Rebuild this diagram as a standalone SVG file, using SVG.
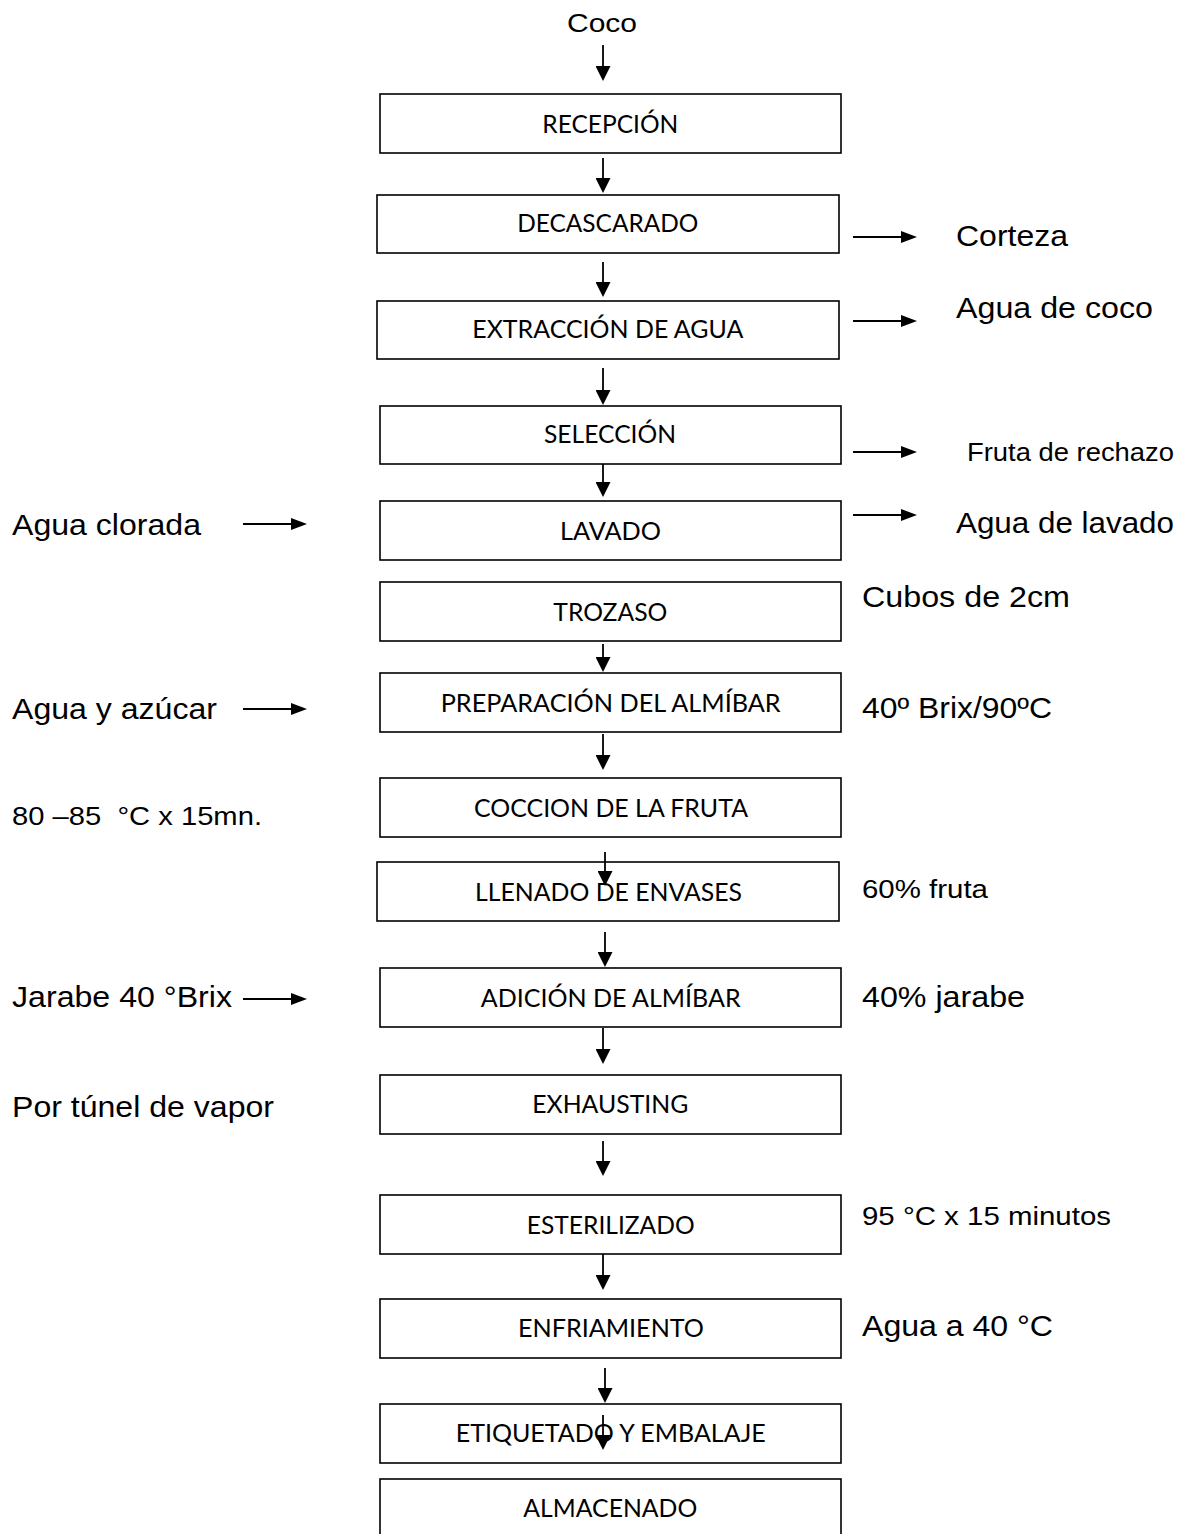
<svg xmlns="http://www.w3.org/2000/svg" width="1193" height="1534" viewBox="0 0 1193 1534">
<style>
.box{fill:#fff;stroke:#000;stroke-width:1.6}
.bt{font-family:Lato,"Open Sans","Liberation Sans",sans-serif;font-size:24.5px;fill:#000}
.lb{font-family:"Liberation Sans",Arial,sans-serif;font-size:29px;fill:#000}
.sm{font-family:"Liberation Sans",Arial,sans-serif;font-size:26px;fill:#000}
.cv{stroke:#000;stroke-width:1.8;fill:none;marker-end:url(#aV)}
.ch{stroke:#000;stroke-width:2;fill:none;marker-end:url(#aH)}
</style>
<defs>
<marker id="aV" viewBox="0 0 15 15" markerWidth="15" markerHeight="15" refX="11" refY="7.5" orient="auto" markerUnits="userSpaceOnUse"><path d="M0,0 L15,7.5 L0,15 z" fill="#000"/></marker>
<marker id="aH" viewBox="0 0 16 12" markerWidth="16" markerHeight="12" refX="12" refY="6" orient="auto" markerUnits="userSpaceOnUse"><path d="M0,0 L16,6 L0,12 z" fill="#000"/></marker>
</defs>
<rect width="1193" height="1534" fill="#fff"/>

<g id="labels">
<text class="sm" x="567" y="32" textLength="70" lengthAdjust="spacingAndGlyphs">Coco</text>
<text class="lb" x="956" y="246" textLength="112" lengthAdjust="spacingAndGlyphs">Corteza</text>
<text class="lb" x="956" y="318" textLength="197" lengthAdjust="spacingAndGlyphs">Agua de coco</text>
<text class="sm" x="967" y="461" textLength="207" lengthAdjust="spacingAndGlyphs">Fruta de rechazo</text>
<text class="lb" x="956" y="533" textLength="218" lengthAdjust="spacingAndGlyphs">Agua de lavado</text>
<text class="lb" x="862" y="607" textLength="208" lengthAdjust="spacingAndGlyphs">Cubos de 2cm</text>
<text class="lb" x="862" y="718" textLength="190" lengthAdjust="spacingAndGlyphs">40º Brix/90ºC</text>
<text class="sm" x="862" y="898" textLength="126" lengthAdjust="spacingAndGlyphs">60% fruta</text>
<text class="lb" x="862" y="1007" textLength="163" lengthAdjust="spacingAndGlyphs">40% jarabe</text>
<text class="sm" x="862" y="1225" textLength="249" lengthAdjust="spacingAndGlyphs">95 °C x 15 minutos</text>
<text class="lb" x="862" y="1336" textLength="191" lengthAdjust="spacingAndGlyphs">Agua a 40 °C</text>
<text class="lb" x="12" y="535" textLength="189" lengthAdjust="spacingAndGlyphs">Agua clorada</text>
<text class="lb" x="12" y="719" textLength="205" lengthAdjust="spacingAndGlyphs">Agua y azúcar</text>
<text class="sm" x="12" y="825" textLength="250" lengthAdjust="spacingAndGlyphs" style="white-space:pre" xml:space="preserve">80 –85  °C x 15mn.</text>
<text class="lb" x="12" y="1007" textLength="220" lengthAdjust="spacingAndGlyphs">Jarabe 40 °Brix</text>
<text class="lb" x="12" y="1117" textLength="262" lengthAdjust="spacingAndGlyphs">Por túnel de vapor</text>
</g>

<g id="n1"><rect class="box" x="380" y="94" width="461" height="59"/><text class="bt" x="542.3" y="133" textLength="136" lengthAdjust="spacingAndGlyphs">RECEPCIÓN</text></g>
<g id="n2"><rect class="box" x="377" y="195" width="462" height="58"/><text class="bt" x="517.3" y="232" textLength="181" lengthAdjust="spacingAndGlyphs">DECASCARADO</text></g>
<g id="n3"><rect class="box" x="377" y="301" width="462" height="58"/><text class="bt" x="472.3" y="338" textLength="271" lengthAdjust="spacingAndGlyphs">EXTRACCIÓN DE AGUA</text></g>
<g id="n4"><rect class="box" x="380" y="406" width="461" height="58"/><text class="bt" x="544" y="443" textLength="132" lengthAdjust="spacingAndGlyphs">SELECCIÓN</text></g>
<g id="n5"><rect class="box" x="380" y="501" width="461" height="59"/><text class="bt" x="560" y="540" textLength="101" lengthAdjust="spacingAndGlyphs">LAVADO</text></g>
<g id="n6"><rect class="box" x="380" y="582" width="461" height="59"/><text class="bt" x="553.3" y="621" textLength="114" lengthAdjust="spacingAndGlyphs">TROZASO</text></g>
<g id="n7"><rect class="box" x="380" y="673" width="461" height="59"/><text class="bt" x="440.7" y="712" textLength="340" lengthAdjust="spacingAndGlyphs">PREPARACIÓN DEL ALMÍBAR</text></g>
<g id="n8"><rect class="box" x="380" y="778" width="461" height="59"/><text class="bt" x="474" y="817" textLength="274" lengthAdjust="spacingAndGlyphs">COCCION DE LA FRUTA</text></g>
<g id="n9"><rect class="box" x="377" y="862" width="462" height="59"/><text class="bt" x="475" y="901" textLength="267" lengthAdjust="spacingAndGlyphs">LLENADO DE ENVASES</text></g>
<g id="n10"><rect class="box" x="380" y="968" width="461" height="59"/><text class="bt" x="480.7" y="1007" textLength="260" lengthAdjust="spacingAndGlyphs">ADICIÓN DE ALMÍBAR</text></g>
<g id="n11"><rect class="box" x="380" y="1075" width="461" height="59"/><text class="bt" x="532.3" y="1113" textLength="156" lengthAdjust="spacingAndGlyphs">EXHAUSTING</text></g>
<g id="n12"><rect class="box" x="380" y="1195" width="461" height="59"/><text class="bt" x="526.7" y="1234" textLength="168" lengthAdjust="spacingAndGlyphs">ESTERILIZADO</text></g>
<g id="n13"><rect class="box" x="380" y="1299" width="461" height="59"/><text class="bt" x="518" y="1337" textLength="186" lengthAdjust="spacingAndGlyphs">ENFRIAMIENTO</text></g>
<g id="n14"><rect class="box" x="380" y="1404" width="461" height="59"/><text class="bt" x="455.7" y="1442" textLength="310" lengthAdjust="spacingAndGlyphs">ETIQUETADO Y EMBALAJE</text></g>
<g id="n15"><rect class="box" x="380" y="1479" width="461" height="70"/><text class="bt" x="523.3" y="1517" textLength="174" lengthAdjust="spacingAndGlyphs">ALMACENADO</text></g>

<g id="connectors">
<line class="cv" x1="603" y1="45" x2="603" y2="77"/>
<line class="cv" x1="603" y1="158" x2="603" y2="189"/>
<line class="cv" x1="603" y1="262" x2="603" y2="293"/>
<line class="cv" x1="603" y1="368" x2="603" y2="401"/>
<line class="cv" x1="603" y1="464" x2="603" y2="493"/>
<line class="cv" x1="603" y1="644" x2="603" y2="668"/>
<line class="cv" x1="603" y1="734" x2="603" y2="766"/>
<line class="cv" x1="605" y1="852" x2="605" y2="882"/>
<line class="cv" x1="605" y1="932" x2="605" y2="963"/>
<line class="cv" x1="603" y1="1028" x2="603" y2="1060"/>
<line class="cv" x1="603" y1="1141" x2="603" y2="1172"/>
<line class="cv" x1="603" y1="1254" x2="603" y2="1286"/>
<line class="cv" x1="605" y1="1368" x2="605" y2="1399"/>
<line class="cv" x1="603" y1="1415" x2="603" y2="1446"/>
<line class="ch" x1="853" y1="237" x2="913" y2="237"/>
<line class="ch" x1="853" y1="321" x2="913" y2="321"/>
<line class="ch" x1="853" y1="452" x2="913" y2="452"/>
<line class="ch" x1="853" y1="515" x2="913" y2="515"/>
<line class="ch" x1="243" y1="524" x2="303" y2="524"/>
<line class="ch" x1="243" y1="709" x2="303" y2="709"/>
<line class="ch" x1="243" y1="999" x2="303" y2="999"/>
</g>
</svg>
